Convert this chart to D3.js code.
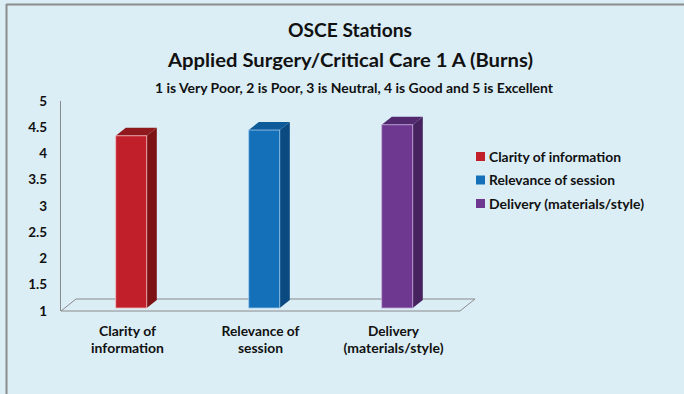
<!DOCTYPE html>
<html>
<head>
<meta charset="utf-8">
<script src="https://cdn.jsdelivr.net/npm/d3@7"></script>
<style>
  html, body { margin: 0; padding: 0; background: #dbeef6; }
  svg { display: block; }
  text { font-family: Lato, "Open Sans", sans-serif; font-weight: bold; fill: #111; }
</style>
</head>
<body>
<svg id="chart" width="684" height="394"></svg>
<script>
// Feedback ratings per aspect (scale 1–5)
const categories = ["Clarity of information", "Relevance of session", "Delivery (materials/style)"];
const categoryLines = [["Clarity of", "information"], ["Relevance of", "session"], ["Delivery", "(materials/style)"]];
const values = [4.28, 4.39, 4.49];
const yTicks = [1, 1.5, 2, 2.5, 3, 3.5, 4, 4.5, 5];
const yTickLabels = ["1", "1.5", "2", "2.5", "3", "3.5", "4", "4.5", "5"];

const colors = {
  front: ["#c1202a", "#1570ba", "#6e3891"],
  side:  ["#7d1214", "#0b4a80", "#46235e"],
  top:   ["#8f191c", "#0d5b99", "#52296f"],
  edge:  ["#f2b8bc", "#9cc8ea", "#c2a8d8"]
};

// text widths for a Calibri-like set width
const labelWidths = [[57, 73], [78, 45], [51, 100]];
const legendWidths = [132, 126, 155];

const svg = d3.select("#chart");

// frame lines
svg.append("line").attr("x1", 6).attr("x2", 684).attr("y1", 4.5).attr("y2", 4.5)
  .attr("stroke", "#8c8c8c").attr("stroke-width", 2);
svg.append("line").attr("x1", 6.5).attr("x2", 6.5).attr("y1", 4).attr("y2", 394)
  .attr("stroke", "#8c8c8c").attr("stroke-width", 2);

// titles
function title(text, cx, cy, size, width) {
  svg.append("text").attr("x", cx).attr("y", cy).attr("text-anchor", "middle")
    .style("font-size", size + "px")
    .attr("textLength", width).attr("lengthAdjust", "spacingAndGlyphs")
    .text(text);
}
title("OSCE Stations", 350, 37, 19, 124);
title("Applied Surgery/Critical Care 1 A (Burns)", 350.5, 67, 19.5, 365);
title("1 is Very Poor, 2 is Poor, 3 is Neutral, 4 is Good and 5 is Excellent", 354, 93, 12.5, 398);

// scales (front plane of the floor)
const x = d3.scaleBand().domain(categories).range([61, 460]);
const y = d3.scaleLinear().domain([1, 5]).range([311, 101]);
const depth = { dx: 15, dy: -12 };   // full floor depth
const barFront = 0.25, barBack = 0.92; // bar position inside the depth
const barW = 31;

// floor parallelogram
const f0 = y(1);
svg.append("path")
  .attr("d", `M${x.range()[0]},${f0} L${x.range()[1]},${f0} L${x.range()[1] + depth.dx},${f0 + depth.dy} L${x.range()[0] + depth.dx},${f0 + depth.dy} Z`)
  .attr("fill", "none").attr("stroke", "#8a8a8a").attr("stroke-width", 1);

// vertical axis line
svg.append("line").attr("x1", 60.5).attr("x2", 60.5).attr("y1", y(5)).attr("y2", y(1))
  .attr("stroke", "#8a8a8a").attr("stroke-width", 1);

// y tick labels
svg.append("g").selectAll("text").data(yTicks).join("text")
  .attr("x", 47).attr("y", d => y(d) + 4.5)
  .attr("text-anchor", "end").style("font-size", "13.5px")
  .text((d, i) => yTickLabels[i]);

// 3D bars
const bars = svg.append("g");
categories.forEach((c, i) => {
  const ox = depth.dx * barFront, oy = depth.dy * barFront;
  const ddx = depth.dx * (barBack - barFront), ddy = depth.dy * (barBack - barFront);
  const x0 = x(c) + x.bandwidth() / 2 - barW / 2 + ox;
  const x1 = x0 + barW;
  const yb = y(1) + oy;
  const yt = y(values[i]) + oy;
  // side
  bars.append("path")
    .attr("d", `M${x1},${yt} L${x1 + ddx},${yt + ddy} L${x1 + ddx},${yb + ddy} L${x1},${yb} Z`)
    .attr("fill", colors.side[i]);
  // top
  bars.append("path")
    .attr("d", `M${x0},${yt} L${x0 + ddx},${yt + ddy} L${x1 + ddx},${yt + ddy} L${x1},${yt} Z`)
    .attr("fill", colors.top[i]);
  // front
  bars.append("rect")
    .attr("x", x0).attr("y", yt).attr("width", barW).attr("height", yb - yt)
    .attr("fill", colors.front[i]).attr("stroke", colors.edge[i]).attr("stroke-width", 0.8);
});

// category labels
svg.append("g").selectAll("text").data(categories).join("text")
  .attr("text-anchor", "middle").style("font-size", "13.5px")
  .each(function (d, i) {
    const t = d3.select(this);
    const cx = x(d) + x.bandwidth() / 2;
    categoryLines[i].forEach((line, k) => {
      t.append("tspan").attr("x", cx).attr("y", 336 + k * 17)
        .attr("textLength", labelWidths[i][k]).attr("lengthAdjust", "spacingAndGlyphs")
        .text(line);
    });
  });

// legend
const legend = svg.append("g").attr("transform", "translate(476,152)");
categories.forEach((c, i) => {
  const g = legend.append("g").attr("transform", `translate(0,${i * 23.5})`);
  g.append("rect").attr("width", 9).attr("height", 9).attr("fill", colors.front[i]);
  g.append("text").attr("x", 13).attr("y", 9.5).style("font-size", "13px")
    .attr("textLength", legendWidths[i]).attr("lengthAdjust", "spacingAndGlyphs")
    .text(c);
});
</script>
</body>
</html>
